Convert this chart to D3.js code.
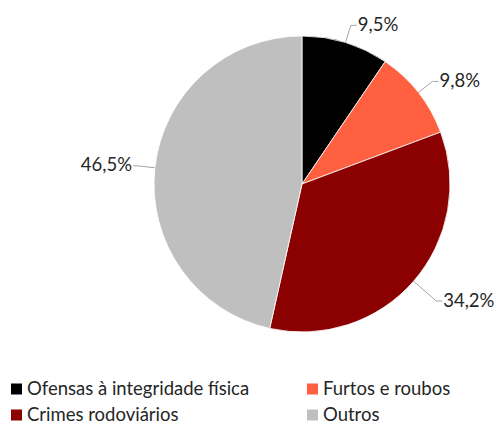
<!DOCTYPE html>
<html>
<head>
<meta charset="utf-8">
<script src="https://cdn.jsdelivr.net/npm/d3@7"></script>
<style>
    body { margin: 0; background: #fff; }
    svg text { font-family: Lato, "Open Sans", sans-serif; fill: #262626; }
</style>
</head>
<body>
<div id="chart"></div>
<script>
var categories = ['Ofensas à integridade física', 'Furtos e roubos', 'Crimes rodoviários', 'Outros'];
var values = [9.5, 9.8, 34.2, 46.5];
var labels = ['9,5%', '9,8%', '34,2%', '46,5%'];
var colors = ['#000000', '#ff6140', '#8b0000', '#bfbfbf'];

var width = 497,
    height = 425,
    cx = 302,
    cy = 184,
    radius = 148,
    fontSize = '18.5px';

var svg = d3.select('#chart')
    .append('svg')
    .attr('width', width)
    .attr('height', height);

var pie = d3.pie().sort(null).value(function (d) { return d; });
var arc = d3.arc().innerRadius(0).outerRadius(radius);
var arcs = pie(values);

var g = svg.append('g').attr('transform', 'translate(' + cx + ',' + cy + ')');

g.selectAll('path.slice')
    .data(arcs)
    .enter()
    .append('path')
    .attr('class', 'slice')
    .attr('d', arc)
    .attr('fill', function (d, i) { return colors[i]; })
    .attr('stroke', '#fff')
    .attr('stroke-width', 0.8);

// leader lines + labels
var edgeArc = d3.arc().innerRadius(radius).outerRadius(radius);
var outerArc = d3.arc().innerRadius(radius + 18).outerRadius(radius + 18);

arcs.forEach(function (d, i) {
    var mid = (d.startAngle + d.endAngle) / 2;
    var right = mid < Math.PI;
    var p0 = edgeArc.centroid(d);
    var p1 = outerArc.centroid(d);
    if (i === 2) p1 = [p1[0] + 9, p1[1] + 8];
    var p2 = [p1[0] + (right ? 6 : -4), p1[1]];

    g.append('polyline')
        .attr('points', [p0, p1, p2].map(function (p) { return p.join(','); }).join(' '))
        .attr('fill', 'none')
        .attr('stroke', '#a6a6a6')
        .attr('stroke-width', 1);

    g.append('text')
        .attr('x', p2[0] + (right ? 1 : -1))
        .attr('y', p2[1])
        .attr('dy', '0.3em')
        .attr('text-anchor', right ? 'start' : 'end')
        .style('font-size', fontSize)
        .text(labels[i]);
});

// legend
var legend = svg.append('g');
var legendX = [11, 307],
    legendY = [389, 415];

categories.forEach(function (c, i) {
    var lx = legendX[i % 2],
        ly = legendY[Math.floor(i / 2)];
    legend.append('rect')
        .attr('x', lx)
        .attr('y', ly - 5.5)
        .attr('width', 11)
        .attr('height', 11)
        .attr('fill', colors[i]);
    legend.append('text')
        .attr('x', lx + 16)
        .attr('y', ly)
        .attr('dy', '0.35em')
        .style('font-size', fontSize)
        .text(c);
});
</script>
</body>
</html>
